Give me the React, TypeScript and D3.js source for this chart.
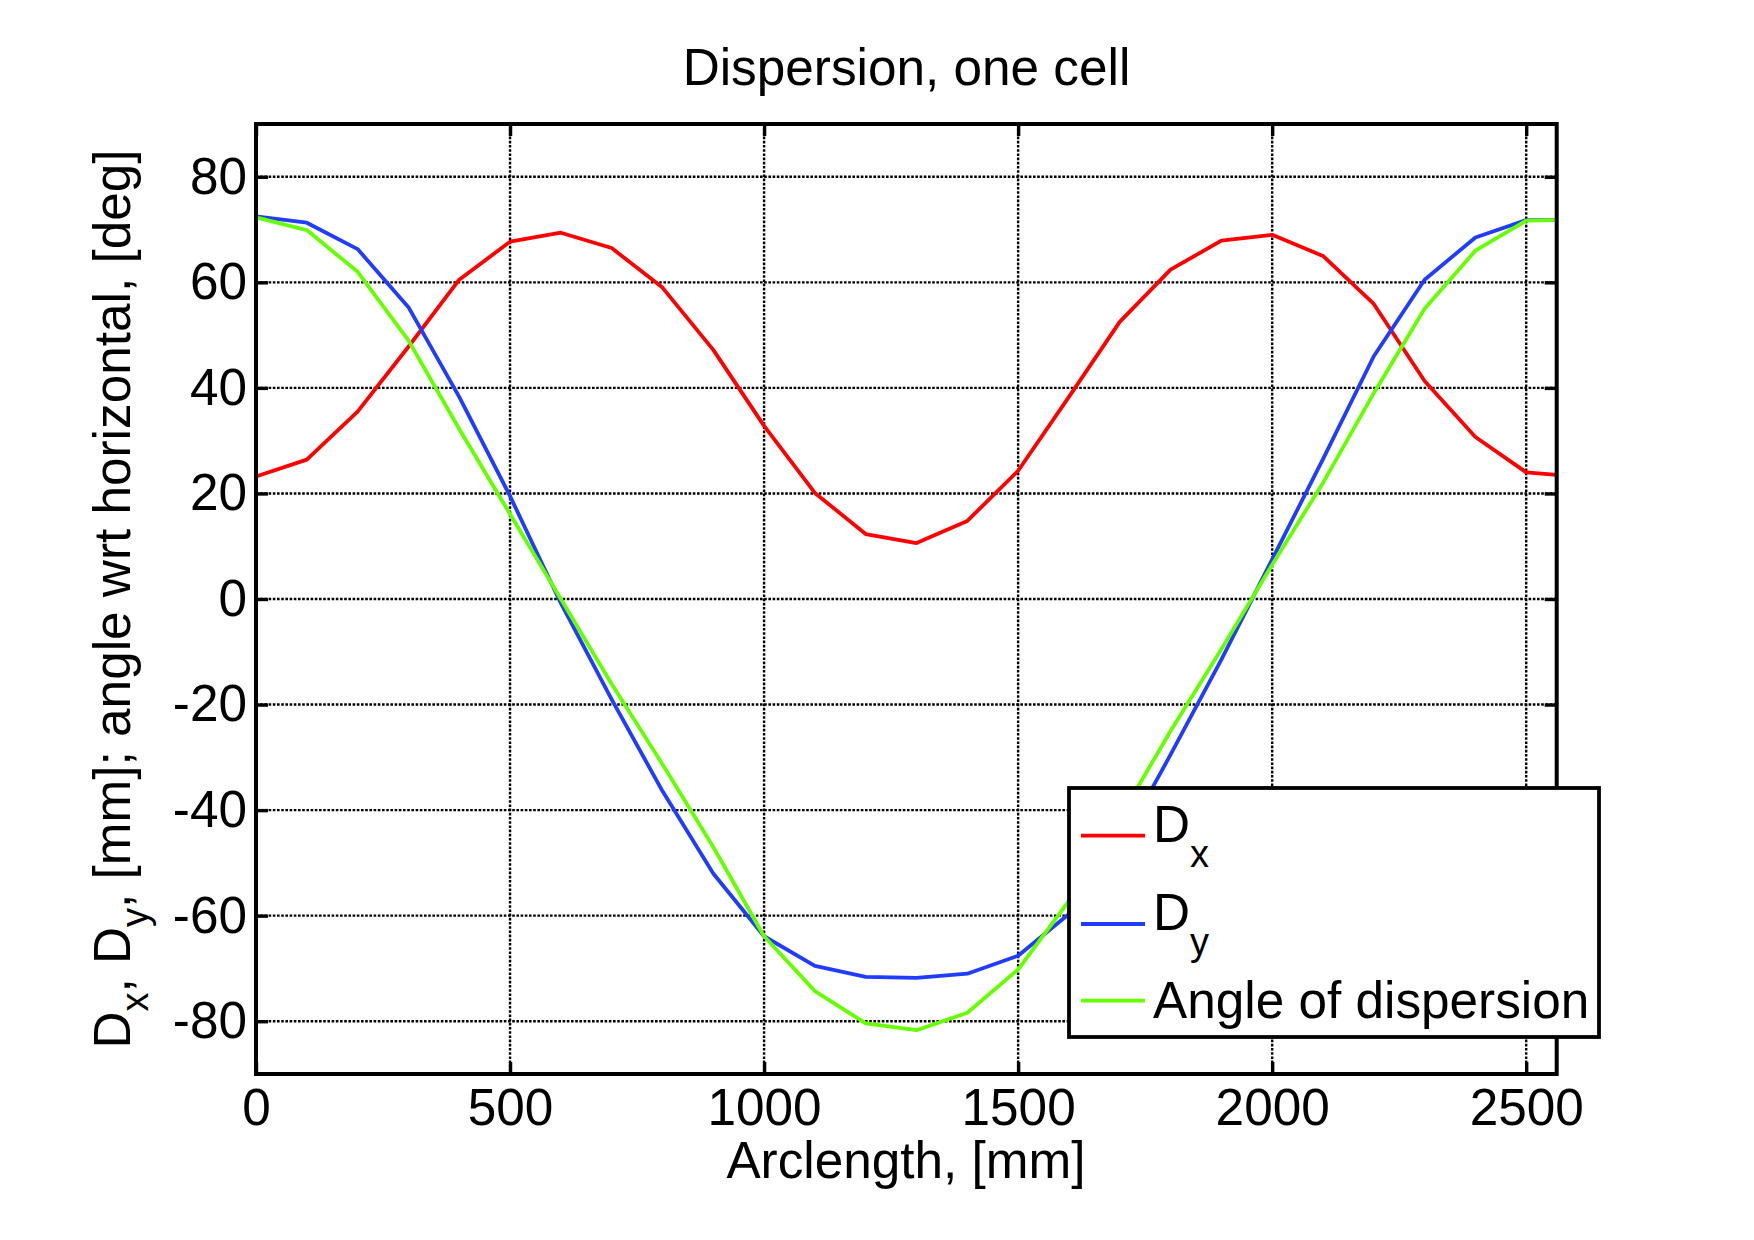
import React, { useEffect, useRef } from 'react';
import * as d3 from 'd3';

// arclength positions, [mm]
const arclength = [0, 100, 200, 300, 400, 500, 600, 700, 800, 900, 1000, 1100, 1200, 1300,
    1400, 1500, 1600, 1700, 1800, 1900, 2000, 2100, 2200, 2300, 2400, 2500, 2560];

const dx = [23.2, 26.4, 35.5, 47.8, 60.5, 67.7, 69.4, 66.5, 59.0, 47.2, 32.8, 20.1, 12.3, 10.6,
    14.8, 24.3, 38.3, 52.5, 62.4, 67.9, 69.0, 65.0, 55.9, 41.3, 30.7, 24.0, 23.5];

const dy = [72.5, 71.3, 66.3, 55.3, 38.3, 19.5, -0.8, -19.0, -36.4, -52.0, -63.9, -69.5, -71.6, -71.8,
    -71.0, -67.6, -59.7, -47.0, -29.5, -11.5, 7.5, 26.5, 46.0, 60.5, 68.5, 71.8, 71.8];

const angle = [72.3, 69.9, 62.0, 49.0, 32.2, 16.1, 0.0, -16.1, -31.3, -47.0, -63.9, -74.3, -80.4, -81.7,
    -78.4, -70.2, -57.2, -41.5, -25.0, -9.5, 6.5, 22.0, 39.0, 55.0, 66.0, 71.7, 71.8];

const xTicks = [0, 500, 1000, 1500, 2000, 2500];
const yTicks = [-80, -60, -40, -20, 0, 20, 40, 60, 80];

const series = [
    { name: 'D', sub: 'x', values: dx, color: '#ff0000' },
    { name: 'D', sub: 'y', values: dy, color: '#1f3cff' },
    { name: 'Angle of dispersion', sub: '', values: angle, color: '#66ff00' },
];

const W = 1754;
const H = 1240;
const FONT = '"Liberation Sans", Arial, Helvetica, sans-serif';
const FS = 51.3;

const App: React.FC = () => {
    const svgRef = useRef<SVGSVGElement>(null);

    useEffect(() => {
        if (!svgRef.current) return;
        const svg = d3.select(svgRef.current);
        svg.selectAll('*').remove();

        const margin = { top: 124, right: W - 1556.7, bottom: H - 1074, left: 256 };
        const innerWidth = W - margin.left - margin.right;
        const innerHeight = H - margin.top - margin.bottom;

        const xScale = d3.scaleLinear().domain([0, 2560]).range([0, innerWidth]);
        const yScale = d3.scaleLinear().domain([-90, 90]).range([innerHeight, 0]);

        svg.append('rect').attr('width', W).attr('height', H).attr('fill', '#fff');

        const g = svg.append('g')
            .attr('transform', `translate(${margin.left},${margin.top})`);

        // dotted grid
        g.append('g').selectAll('line')
            .data(xTicks.filter(t => t > 0))
            .join('line')
            .attr('x1', d => xScale(d)).attr('x2', d => xScale(d))
            .attr('y1', 0).attr('y2', innerHeight)
            .attr('stroke', '#000').attr('stroke-width', 2.4)
            .attr('stroke-dasharray', '2.6,1.6');
        g.append('g').selectAll('line')
            .data(yTicks)
            .join('line')
            .attr('y1', d => yScale(d)).attr('y2', d => yScale(d))
            .attr('x1', 0).attr('x2', innerWidth)
            .attr('stroke', '#000').attr('stroke-width', 2.4)
            .attr('stroke-dasharray', '2.6,1.6');

        // axes with inward ticks
        const styleAxis = (sel: d3.Selection<SVGGElement, unknown, null, undefined>) => {
            sel.select('.domain').remove();
            sel.selectAll('.tick line').attr('stroke', '#000').attr('stroke-width', 3.4);
            sel.selectAll('.tick text').attr('fill', '#000')
                .style('font-family', FONT).style('font-size', `${FS}px`);
        };
        const plain = (d: d3.NumberValue) => String(d);

        g.append('g')
            .attr('transform', `translate(0,${innerHeight})`)
            .call(d3.axisBottom(xScale).tickValues(xTicks).tickSize(-12).tickPadding(15).tickFormat(plain))
            .call(styleAxis);
        g.append('g')
            .call(d3.axisTop(xScale).tickValues(xTicks).tickSize(-12).tickFormat(() => ''))
            .call(styleAxis);
        g.append('g')
            .call(d3.axisLeft(yScale).tickValues(yTicks).tickSize(-12).tickPadding(9).tickFormat(plain))
            .call(styleAxis);
        g.append('g')
            .attr('transform', `translate(${innerWidth},0)`)
            .call(d3.axisRight(yScale).tickValues(yTicks).tickSize(-12).tickFormat(() => ''))
            .call(styleAxis);

        // data lines
        const line = d3.line<number>()
            .x((d, i) => xScale(arclength[i]))
            .y(d => yScale(d));

        series.forEach(s => {
            g.append('path')
                .datum(s.values)
                .attr('fill', 'none')
                .attr('stroke', s.color)
                .attr('stroke-width', 3.8)
                .attr('stroke-linejoin', 'round')
                .attr('d', line);
        });

        // frame
        g.append('rect')
            .attr('width', innerWidth).attr('height', innerHeight)
            .attr('fill', 'none').attr('stroke', '#000').attr('stroke-width', 4);

        // legend
        const legend = svg.append('g').attr('transform', 'translate(1069,788)');
        legend.append('rect')
            .attr('width', 530).attr('height', 249)
            .attr('fill', '#fff').attr('stroke', '#000').attr('stroke-width', 3.8);
        const rowLine = [47.7, 136, 212.7];
        const rowBase = [53.7, 142, 230];
        series.forEach((s, i) => {
            legend.append('line')
                .attr('x1', 12).attr('x2', 76)
                .attr('y1', rowLine[i]).attr('y2', rowLine[i])
                .attr('stroke', s.color).attr('stroke-width', 3.8);
            const t = legend.append('text')
                .attr('x', 84).attr('y', rowBase[i])
                .style('font-family', FONT).style('font-size', `${FS}px`)
                .attr('fill', '#000');
            t.append('tspan').text(s.name);
            if (s.sub) {
                t.append('tspan').attr('dy', 25).style('font-size', '38px').text(s.sub);
            }
        });

        // title
        svg.append('text')
            .attr('x', 906.5).attr('y', 85)
            .attr('text-anchor', 'middle')
            .style('font-family', FONT).style('font-size', `${FS}px`)
            .text('Dispersion, one cell');

        // x label
        svg.append('text')
            .attr('x', 906).attr('y', 1178)
            .attr('text-anchor', 'middle')
            .style('font-family', FONT).style('font-size', `${FS}px`)
            .text('Arclength, [mm]');

        // y label
        const yl = svg.append('text')
            .attr('transform', `translate(130,${margin.top + innerHeight / 2}) rotate(-90)`)
            .attr('text-anchor', 'middle')
            .style('font-family', FONT).style('font-size', `${FS}px`);
        yl.append('tspan').text('D');
        yl.append('tspan').attr('dy', 18).style('font-size', '38px').text('x');
        yl.append('tspan').attr('dy', -18).text(', D');
        yl.append('tspan').attr('dy', 18).style('font-size', '38px').text('y');
        yl.append('tspan').attr('dy', -18).text(', [mm]; angle wrt horizontal, [deg]');
    }, []);

    return (
        <svg ref={svgRef} width={W} height={H}
            style={{ position: 'absolute', left: 0, top: 0, display: 'block' }}></svg>
    );
};

export default App;
